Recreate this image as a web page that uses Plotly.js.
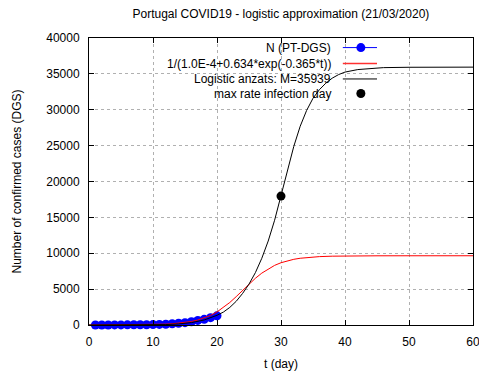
<!DOCTYPE html>
<html><head><meta charset="utf-8">
<script src="https://cdn.plot.ly/plotly-3.0.1.min.js"></script>
<style>html,body{margin:0;padding:0;background:#fff}#c{width:479px;height:371px}</style>
</head><body><div id="c"></div>
<script>
// Observed data: N (PT-DGS)
const days = [1,2,3,4,5,6,7,8,9,10,11,12,13,14,15,16,17,18,19,20];
const cases = [2,4,6,9,13,21,30,39,41,59,78,112,169,245,331,448,642,785,1020,1280];

// Red curve 1/(1.0E-4+0.634*exp(-0.365*t))
const tRed = [0,5,8,10,11,12,13,14,15,16,17,18,19,20,21,22,23,24,25,26,27,28,29,30,31,32,33,34,35,36,38,40,45,50,60];
const vRed = [2,9,28,58,83,119,171,245,348,494,696,971,1340,1819,2419,3138,3954,4825,5696,6512,7231,7831,8310,8679,8954,9156,9302,9405,9479,9531,9592,9622,9643,9648,9650];

// Black curve: logistic anzats M=35939
const tBlk = [0,5,10,12,14,16,18,20,21,22,23,24,25,26,27,28,29,30,31,32,33,34,35,36,37,38,39,40,42,44,46,50,55,60];
const vBlk = [1,4,20,60,150,330,700,1350,1800,2450,3300,4400,5700,7300,9300,11700,14600,17970,21300,24900,27700,29900,31600,32800,33700,34400,34900,35250,35600,35780,35870,35920,35935,35939];

// Max rate infection day
const tMax = [30];
const vMax = [17970];

const xTicks = [0,10,20,30,40,50,60];
const yTicks = [0,5000,10000,15000,20000,25000,30000,35000,40000];

const legendLabels = ["N (PT-DGS)", "1/(1.0E-4+0.634*exp(-0.365*t))", "Logistic anzats: M=35939", "max rate infection day"];

const font = {family: "Liberation Sans, Arial, sans-serif", size: 12, color: "#000"};

const traces = [
  {x: days, y: cases, mode: "lines+markers", line: {color: "#0000ff", width: 1},
   marker: {color: "#0000ff", size: 9}, cliponaxis: false, showlegend: false},
  {x: tRed, y: vRed, mode: "lines", line: {color: "#ff0000", width: 1}, showlegend: false},
  {x: tBlk, y: vBlk, mode: "lines", line: {color: "#000000", width: 1}, showlegend: false},
  {x: tMax, y: vMax, mode: "markers", marker: {color: "#000000", size: 9}, showlegend: false}
];

const rowsY = [0.9666, 0.9109, 0.8573, 0.8065];
const textX = 0.635, lx0 = 0.661, lx1 = 0.75, mx = 0.708;

const annotations = legendLabels.map((t, i) => ({
  text: t, xref: "paper", yref: "paper", x: textX, y: rowsY[i],
  xanchor: "right", yanchor: "middle", showarrow: false, font: font
}));

const shapes = [
  {type: "line", xref: "paper", yref: "paper", x0: lx0, x1: lx1, y0: rowsY[0], y1: rowsY[0], line: {color: "#0000ff", width: 1}},
  {type: "circle", xref: "paper", yref: "paper", xsizemode: "pixel", ysizemode: "pixel", xanchor: mx, yanchor: rowsY[0], x0: -4.5, x1: 4.5, y0: -4.5, y1: 4.5, fillcolor: "#0000ff", line: {width: 0}},
  {type: "line", xref: "paper", yref: "paper", x0: lx0, x1: lx1, y0: rowsY[1], y1: rowsY[1], line: {color: "#ff3030", width: 1.5}},
  {type: "line", xref: "paper", yref: "paper", x0: lx0, x1: lx1, y0: rowsY[2], y1: rowsY[2], line: {color: "#000000", width: 1}},
  {type: "circle", xref: "paper", yref: "paper", xsizemode: "pixel", ysizemode: "pixel", xanchor: mx, yanchor: rowsY[3], x0: -4.5, x1: 4.5, y0: -4.5, y1: 4.5, fillcolor: "#000000", line: {width: 0}}
];

const axisCommon = {
  showline: true, linecolor: "#000", linewidth: 1, mirror: "ticks",
  ticks: "inside", ticklen: 5, tickcolor: "#000", tickwidth: 1,
  showgrid: true, gridcolor: "#b0b0b0", griddash: "dot", gridwidth: 1,
  zeroline: false, tickfont: font, tickformat: "d", ticklabeloverflow: "allow"
};

const layout = {
  width: 479, height: 371,
  margin: {l: 89, r: 6, t: 38, b: 46},
  paper_bgcolor: "#fff", plot_bgcolor: "#fff",
  font: font,
  title: {text: "Portugal COVID19 - logistic approximation (21/03/2020)", font: font, x: 0.5865, xanchor: "center", y: 0.962, yanchor: "middle"},
  xaxis: Object.assign({}, axisCommon, {range: [0, 60], tickvals: xTicks, ticklabelstandoff: 6,
    title: {text: "t (day)", font: font, standoff: 13}}),
  yaxis: Object.assign({}, axisCommon, {range: [0, 40000], tickvals: yTicks, ticklabelstandoff: 6,
    title: {text: "Number of confirmed cases (DGS)", font: font, standoff: 22}}),
  annotations: annotations,
  shapes: shapes,
  showlegend: false
};

Plotly.newPlot("c", traces, layout, {displayModeBar: false, staticPlot: true});
</script>
</body></html>
